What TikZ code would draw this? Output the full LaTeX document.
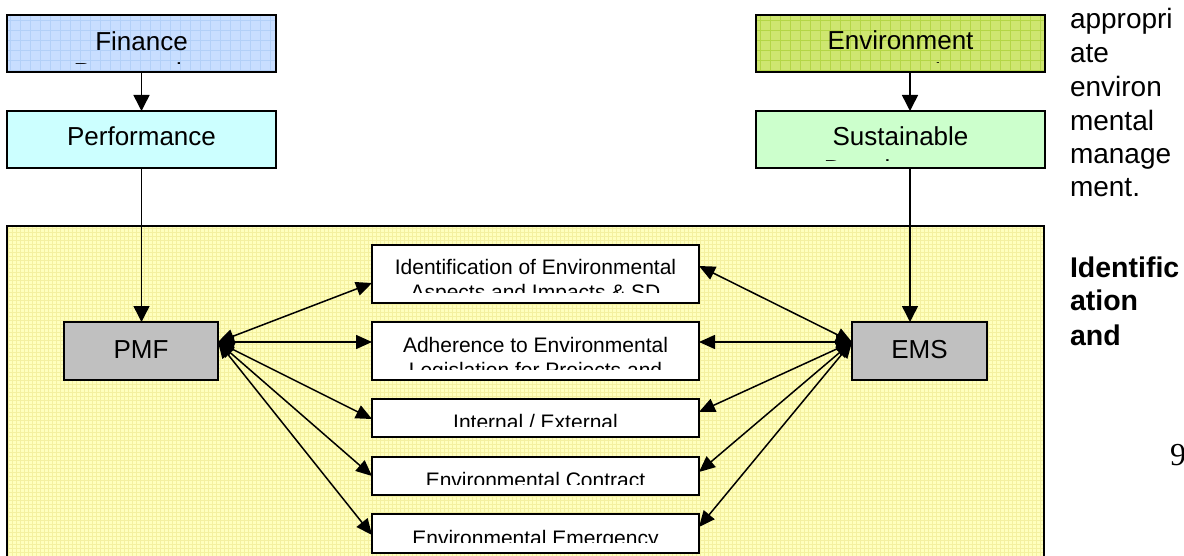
\documentclass[tikz,border=0pt]{standalone}
\usepackage{fontspec}
\setmainfont{Liberation Sans}
\newfontfamily\serifnum{Liberation Serif}
\usetikzlibrary{arrows.meta}
\definecolor{finbase}{RGB}{200,222,255}
\definecolor{fingrid}{RGB}{178,208,248}
\definecolor{envbase}{RGB}{206,230,112}
\definecolor{envgrid}{RGB}{180,214,70}
\definecolor{perfcol}{RGB}{204,255,255}
\definecolor{suscol}{RGB}{204,255,204}
\definecolor{yelbase}{RGB}{255,255,190}
\definecolor{yelgrid}{RGB}{244,240,160}
\definecolor{graycol}{RGB}{192,192,192}
\tikzset{
  boxframe/.style={draw=black, line width=2pt, inner sep=0pt, outer sep=0pt},
  lbl/.style={inner sep=0pt, outer sep=0pt, anchor=base, font=\fontsize{26}{30}\selectfont},
  midlbl/.style={inner sep=0pt, outer sep=0pt, anchor=base, font=\fontsize{21}{25}\selectfont},
  arr/.style={line width=1.5pt, -{Triangle[length=16pt,width=16pt]}},
  dbl/.style={line width=1.5pt, {Triangle[length=16pt,width=14pt]}-{Triangle[length=16pt,width=14pt]}},
  sidetxt/.style={inner sep=0pt, outer sep=0pt, anchor=base west, font=\fontsize{28}{33}\selectfont},
}
% #1 name, #2 x1, #3 y1, #4 x2, #5 y2, #6 fill
\newcommand{\mybox}[6]{%
  \node[boxframe, fill=#6, minimum width={(#4-#2)*1pt}, minimum height={(#5-#3)*1pt}]
    (#1) at ({(#2+#4)/2},{(#3+#5)/2}) {};}
% #1 name, #2 x1, #3 y1, #4 x2, #5 y2, #6 base, #7 grid colour
\newcommand{\mygridbox}[7]{%
  \fill[#6] (#2,#3) rectangle (#4,#5);
  \begin{scope}
    \clip (#2,#3) rectangle (#4,#5);
    \draw[#7, line width=0.8pt, step=10pt] (#2,#3) grid (#4,#5);
  \end{scope}
  \node[boxframe, minimum width={(#4-#2)*1pt}, minimum height={(#5-#3)*1pt}]
    (#1) at ({(#2+#4)/2},{(#3+#5)/2}) {};}
\begin{document}
\begin{tikzpicture}[x=1pt,y=-1pt]
\clip (0,0) rectangle (1184,556);
\fill[white] (0,0) rectangle (1184,556);

% large yellow panel
\fill[yelbase] (7,226) rectangle (1044,575);
\begin{scope}
  \clip (7,226) rectangle (1044,575);
  \draw[yelgrid, line width=0.4pt, step=4pt] (7,226) grid (1044,575);
\end{scope}
\node[boxframe, line width=1.6pt, minimum width=1037pt, minimum height=349pt, anchor=north west] (panel) at (7,226) {};

% top boxes
\mygridbox{fin}{7}{15}{276}{72}{finbase}{fingrid}
\mybox{perf}{7}{111}{276}{168}{perfcol}
\mygridbox{env}{756}{15}{1045}{72}{envbase}{envgrid}
\mybox{sus}{756}{111}{1045}{168}{suscol}

\begin{scope}
  \clip (8,16) rectangle (275,63.5);
  \node[lbl] (fint) at (141.5,51) {Finance};
  \node[lbl] (fint2) at (141.5,81.6) {Perspective};
\end{scope}
\node[lbl] (perft) at (141.5,146) {Performance};
\begin{scope}
  \clip (757,16) rectangle (1044,63);
  \node[lbl] (envt) at (900.5,50) {Environment};
  \node[lbl] (envt2) at (900.5,81.1) {Perspective};
\end{scope}
\begin{scope}
  \clip (757,112) rectangle (1044,160.5);
  \node[lbl] (sust) at (900.5,146) {Sustainable};
  \node[lbl] (sust2) at (900.5,178.6) {Development};
\end{scope}

% PMF / EMS
\mybox{pmf}{64}{322}{218}{380}{graycol}
\node[lbl] (pmft) at (141,358) {PMF};
\mybox{ems}{852}{322}{987}{380}{graycol}
\node[lbl] (emst) at (919.5,358) {EMS};

% middle boxes
\mybox{b1}{372}{245}{699}{303}{white}
\mybox{b2}{372}{322}{699}{380}{white}
\mybox{b3}{372}{399}{699}{437}{white}
\mybox{b4}{372}{457}{699}{495}{white}
\mybox{b5}{372}{514}{699}{553}{white}

\begin{scope}
  \clip (373,246) rectangle (698,293);
  \node[midlbl] (b1t) at (535.5,275) {Identification of Environmental};
  \node[midlbl] (b1t2) at (535.5,300) {Aspects and Impacts \& SD};
\end{scope}
\begin{scope}
  \clip (373,323) rectangle (698,369);
  \node[midlbl] (b2t) at (535.5,352) {Adherence to Environmental};
  \node[midlbl] (b2t2) at (535.5,377) {Legislation for Projects and};
\end{scope}
\begin{scope}
  \clip (373,400) rectangle (698,426);
  \node[midlbl] (b3t) at (535.5,429.5) {Internal / External};
\end{scope}
\begin{scope}
  \clip (373,458) rectangle (698,484);
  \node[midlbl] (b4t) at (535.5,487) {Environmental Contract};
\end{scope}
\begin{scope}
  \clip (373,515) rectangle (698,542);
  \node[midlbl] (b5t) at (535.5,545) {Environmental Emergency};
\end{scope}

% vertical arrows
\draw[arr] (fin.south) -- (perf.north);
\draw[arr] (perf.south) -- (perf.south |- pmf.north);
\draw[arr] ([xshift=9.5pt]env.south) -- ([xshift=9.5pt]sus.north);
\draw[arr] ([xshift=9.5pt]sus.south) -- ([xshift=9.5pt]sus.south |- ems.north);

% hubs
\coordinate (ph) at ([yshift=9pt]pmf.east);
\coordinate (eh) at ([yshift=9pt]ems.west);

% PMF connectors
\draw[dbl] (ph) -- ([yshift=-9pt]b1.west);
\draw[dbl] (ph) -- ([yshift=9pt]b2.west);
\draw[dbl] (ph) -- ([yshift=-1pt]b3.west);
\draw[dbl] (ph) -- (b4.west);
\draw[dbl] (ph) -- ([yshift=-1.5pt]b5.west);

% EMS connectors
\draw[dbl] (eh) -- ([yshift=8pt]b1.east);
\draw[dbl] (eh) -- ([yshift=9pt]b2.east);
\draw[dbl] (eh) -- ([yshift=6pt]b3.east);
\draw[dbl] (eh) -- ([yshift=4pt]b4.east);
\draw[dbl] (eh) -- ([yshift=6.5pt]b5.east);

% right-hand text
\node[sidetxt] (r1) at (1070,29) {appropri};
\node[sidetxt] (r2) at (1070,63) {ate};
\node[sidetxt] (r3) at (1070,97) {environ};
\node[sidetxt] (r4) at (1070,131) {mental};
\node[sidetxt] (r5) at (1070,164) {manage};
\node[sidetxt] (r6) at (1070,197) {ment.};
\node[sidetxt, font=\fontsize{28.5}{33}\selectfont\bfseries] (r7) at (1070,277) {Identific};
\node[sidetxt, font=\fontsize{28.5}{33}\selectfont\bfseries] (r8) at (1070,311) {ation};
\node[sidetxt, font=\fontsize{28.5}{33}\selectfont\bfseries] (r9) at (1070,345) {and};
\node[inner sep=0pt, anchor=base west, font=\serifnum\fontsize{32}{36}\selectfont] (pg) at (1170,465) {9};
\end{tikzpicture}
\end{document}
